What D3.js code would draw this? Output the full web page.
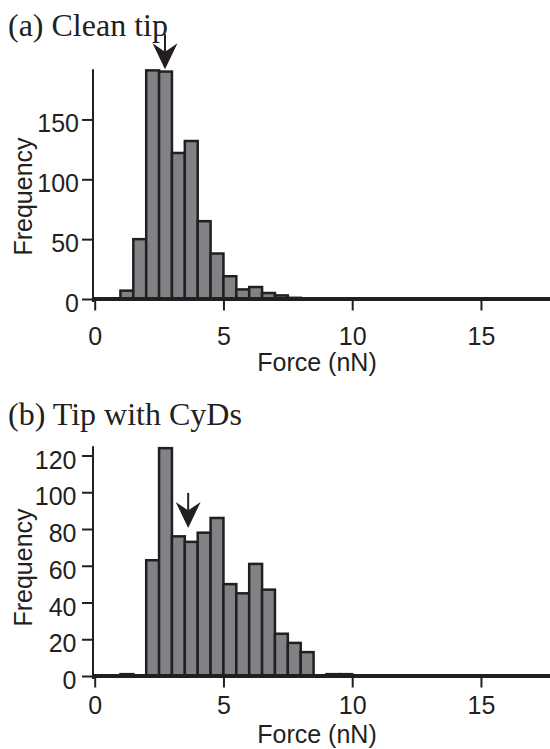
<!DOCTYPE html>
<html lang="en">
  <head>
    <meta charset="UTF-8" />
    <title>Force histograms</title>
    <script src="https://d3js.org/d3.v7.min.js"></script>
    <style>
      body { margin: 0; background: #fff; }
      .title { font-family: "Liberation Serif", "Times New Roman", serif; font-size: 32px; fill: #231f20; }
      .lbl { font-family: "Liberation Sans", Arial, sans-serif; font-size: 25px; fill: #231f20; }
    </style>
  </head>
  <body>
    <svg width="550" height="749"></svg>
    <script>
      // bin width 0.5 nN, start of each bin
      const binWidth = 0.5;
      const binsA = [1.0, 1.5, 2.0, 2.5, 3.0, 3.5, 4.0, 4.5, 5.0, 5.5, 6.0, 6.5, 7.0, 7.5];
      const countsA = [7, 50, 191, 190, 122, 132, 65, 38, 19, 8, 10, 5, 3, 1];
      const binsB = [1.0, 2.0, 2.5, 3.0, 3.5, 4.0, 4.5, 5.0, 5.5, 6.0, 6.5, 7.0, 7.5, 8.0, 9.0, 9.5];
      const countsB = [1, 63, 124, 76, 73, 78, 86, 50, 45, 61, 47, 23, 18, 13, 1, 1];
      const xTicks = [0, 5, 10, 15];
      const yTicksA = [0, 50, 100, 150];
      const yTicksB = [0, 20, 40, 60, 80, 100, 120];
      // arrow marks (force, frequency at tip)
      const arrowA = [2.73, 192];
      const arrowB = [3.63, 80.6];

      const svg = d3.select("svg");
      const ink = "#231f20";
      const x = d3.scaleLinear().domain([0, 18]).range([94.7, 94.7 + 18 * 25.75]);

      function panel(opt) {
        const y = d3.scaleLinear().domain([0, opt.yMax]).range([opt.base, opt.base - opt.yMax * opt.ppu]);
        const g = svg.append("g");

        // bars
        g.append("g")
          .selectAll("rect")
          .data(opt.bins.map((b, i) => ({ b: b, c: opt.counts[i] })))
          .enter()
          .append("rect")
          .attr("x", d => x(d.b))
          .attr("width", d => x(d.b + binWidth) - x(d.b))
          .attr("y", d => y(d.c))
          .attr("height", d => y(0) - y(d.c))
          .attr("fill", "#808285")
          .attr("stroke", ink)
          .attr("stroke-width", 2.5);

        // thick baseline (zero-height bins)
        g.append("line")
          .attr("x1", x(0) - 1.5).attr("x2", 550)
          .attr("y1", y(0)).attr("y2", y(0))
          .attr("stroke", ink).attr("stroke-width", 4);

        // y axis
        const ya = g.append("g")
          .attr("transform", "translate(93,0)")
          .call(d3.axisLeft(y).tickValues(opt.yTicks).tickSize(11).tickSizeOuter(0));
        ya.select(".domain").attr("stroke", ink).attr("stroke-width", 2)
          .attr("d", `M0,${y(opt.yMax)}V${y(0) + 3}`);
        ya.selectAll(".tick line").attr("stroke", ink).attr("stroke-width", 2);
        ya.selectAll(".tick text").attr("class", "lbl").attr("font-size", null).attr("font-family", null)
          .attr("x", -opt.yLblGap).attr("dy", "0.5em");

        // x axis
        const xa = g.append("g")
          .attr("transform", `translate(0,${y(0) + 1.5})`)
          .call(d3.axisBottom(x).tickValues(xTicks).tickSize(10).tickSizeOuter(0));
        xa.select(".domain").remove();
        xa.selectAll(".tick line").attr("stroke", ink).attr("stroke-width", 2);
        xa.selectAll(".tick text").attr("class", "lbl").attr("font-size", null).attr("font-family", null)
          .attr("y", opt.xLblOff).attr("dy", 0);

        g.append("text").attr("class", "lbl").attr("text-anchor", "middle")
          .attr("x", 317).attr("y", opt.xTitleY).text("Force (nN)");
        g.append("text").attr("class", "lbl").attr("text-anchor", "middle")
          .attr("transform", `translate(31.5,${opt.yTitleY}) rotate(-90)`).text("Frequency");
        g.append("text").attr("class", "title").attr("x", 8).attr("y", opt.titleY).text(opt.title);

        // arrow
        const ax = x(opt.arrow[0]), tip = y(opt.arrow[1]);
        g.append("line").attr("x1", ax).attr("x2", ax).attr("y1", tip - 35).attr("y2", tip - 12)
          .attr("stroke", ink).attr("stroke-width", 2);
        g.append("path")
          .attr("d", `M${ax},${tip}L${ax - 12.5},${tip - 26}L${ax},${tip - 17.5}L${ax + 12.5},${tip - 26}Z`)
          .attr("fill", ink);
      }

      panel({
        bins: binsA, counts: countsA, yTicks: yTicksA, yMax: 192, base: 299, ppu: 1.197,
        yLblGap: 14, xLblOff: 44.5, xTitleY: 370.5, yTitleY: 196.5, titleY: 35.5,
        title: "(a) Clean tip", arrow: arrowA
      });
      panel({
        bins: binsB, counts: countsB, yTicks: yTicksB, yMax: 125, base: 676, ppu: 1.8375,
        yLblGap: 16.5, xLblOff: 36.5, xTitleY: 743, yTitleY: 567.5, titleY: 425,
        title: "(b) Tip with CyDs", arrow: arrowB
      });
    </script>
  </body>
</html>
